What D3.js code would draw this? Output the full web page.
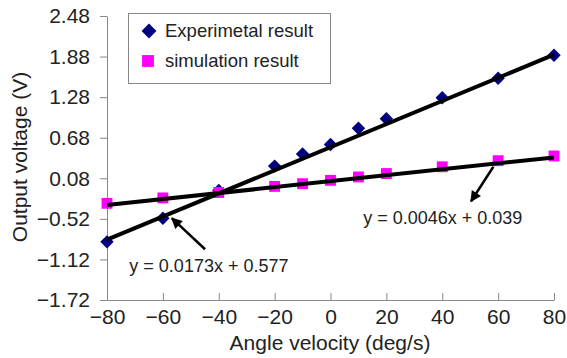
<!DOCTYPE html>
<html>
<head>
	<meta charset="utf-8">
	<title>Output voltage vs angle velocity</title>
	<script src="https://d3js.org/d3.v7.min.js"></script>
	<style>
		body { margin: 0; background: #fff; }
		text { font-family: "Liberation Sans", Arial, sans-serif; fill: #222; }
		.axis path, .axis line { stroke: #888; stroke-width: 1; }
		.axis text { font-size: 21px; fill: #222; }
	</style>
</head>
<body>
	<div id="chart"></div>

	<script type="text/javascript">
		// values
		var angles = [-80, -60, -40, -20, -10, 0, 10, 20, 40, 60, 80];
		var experimental = [-0.86, -0.51, -0.10, 0.26, 0.44, 0.58, 0.82, 0.96, 1.27, 1.56, 1.90];
		var simulation = [-0.29, -0.21, -0.13, -0.04, 0.00, 0.05, 0.10, 0.15, 0.25, 0.34, 0.41];

		var xTicks = [-80, -60, -40, -20, 0, 20, 40, 60, 80];
		var yTicks = [-1.72, -1.12, -0.52, 0.08, 0.68, 1.28, 1.88, 2.48];

		// trend lines as drawn in the picture [slope, intercept]
		var trendExp = [0.0171, 0.54];
		var trendSim = [0.0044, 0.037];

		var eqLabels = ["y = 0.0173x + 0.577", "y = 0.0046x + 0.039"];
		// annotation anchors in data units: [textX, textY, tailX, tailY, headX, headY]
		var eqExp = [-72, -1.31, -44.9, -0.97, -56.8, -0.51];
		var eqSim = [11.7, -0.60, 58.3, 0.25, 50.3, -0.26];

		var width = 567, height = 358;

		var svg = d3.select("#chart")
			.append("svg")
			.attr("width", width)
			.attr("height", height);

		var x = d3.scaleLinear().domain([-80, 80]).range([107, 554]);
		var y = d3.scaleLinear().domain([-1.72, 2.48]).range([300, 16]);

		var defs = svg.append("defs");
		defs.append("marker")
			.attr("id", "arrow")
			.attr("viewBox", "0 0 10 10")
			.attr("refX", 9)
			.attr("refY", 5)
			.attr("markerUnits", "userSpaceOnUse")
			.attr("markerWidth", 12)
			.attr("markerHeight", 11)
			.attr("orient", "auto")
			.append("path")
			.attr("d", "M0,0 L10,5 L0,10 z")
			.attr("fill", "#000");

		// axes
		svg.append("g")
			.attr("class", "axis")
			.attr("transform", "translate(0,300)")
			.call(d3.axisBottom(x).tickValues(xTicks).tickSizeInner(-7).tickSizeOuter(0).tickPadding(9))
			.selectAll("text").attr("dy", "0.71em");

		svg.append("g")
			.attr("class", "axis")
			.attr("transform", "translate(107,0)")
			.call(d3.axisLeft(y).tickValues(yTicks).tickFormat(d3.format(".2f")).tickSize(7).tickSizeOuter(0).tickPadding(10));

		svg.selectAll(".axis .domain").attr("stroke", "#888");

		// axis titles
		svg.append("text")
			.attr("x", 330)
			.attr("y", 350)
			.attr("text-anchor", "middle")
			.style("font-size", "21px")
			.text("Angle velocity (deg/s)");

		svg.append("text")
			.attr("transform", "translate(27,157) rotate(-90)")
			.attr("text-anchor", "middle")
			.style("font-size", "21px")
			.text("Output voltage (V)");

		var diamond = d3.symbol().type(d3.symbolSquare).size(90);
		var square = d3.symbol().type(d3.symbolSquare).size(118);

		var expPts = angles.map(function(a, i){ return [a, experimental[i]]; });
		var simPts = angles.map(function(a, i){ return [a, simulation[i]]; });

		svg.append("g").selectAll("path")
			.data(expPts)
			.enter().append("path")
			.attr("d", diamond)
			.attr("transform", function(d){ return "translate(" + x(d[0]) + "," + y(d[1]) + ") rotate(45)"; })
			.attr("fill", "#000080");

		svg.append("g").selectAll("path")
			.data(simPts)
			.enter().append("path")
			.attr("d", square)
			.attr("transform", function(d){ return "translate(" + x(d[0]) + "," + y(d[1]) + ")"; })
			.attr("fill", "#ff00ff");

		// trend lines
		var line = d3.line().x(function(d){ return x(d[0]); }).y(function(d){ return y(d[1]); });
		[trendExp, trendSim].forEach(function(t){
			var ends = [-80, 80].map(function(a){ return [a, t[0] * a + t[1]]; });
			svg.append("path")
				.attr("d", line(ends))
				.attr("fill", "none")
				.attr("stroke", "#000")
				.attr("stroke-width", 4);
		});

		// equation labels + arrows
		[eqExp, eqSim].forEach(function(e, i){
			svg.append("line")
				.attr("x1", x(e[2])).attr("y1", y(e[3]))
				.attr("x2", x(e[4])).attr("y2", y(e[5]))
				.attr("stroke", "#000")
				.attr("stroke-width", 2.5)
				.attr("marker-end", "url(#arrow)");
			svg.append("text")
				.attr("x", x(e[0]))
				.attr("y", y(e[1]))
				.style("font-size", "18px")
				.text(eqLabels[i]);
		});

		// legend
		var legend = svg.append("g");
		legend.append("rect")
			.attr("x", 128.5).attr("y", 13.5)
			.attr("width", 202).attr("height", 70)
			.attr("fill", "#fff")
			.attr("stroke", "#888");

		legend.append("path")
			.attr("d", d3.symbol().type(d3.symbolSquare).size(110))
			.attr("transform", "translate(149,31) rotate(45)")
			.attr("fill", "#000080");
		legend.append("path")
			.attr("d", d3.symbol().type(d3.symbolSquare).size(140))
			.attr("transform", "translate(148,61)")
			.attr("fill", "#ff00ff");

		legend.append("text").attr("x", 165).attr("y", 37).style("font-size", "18.5px").text("Experimetal result");
		legend.append("text").attr("x", 165).attr("y", 67).style("font-size", "18.5px").text("simulation result");
	</script>
</body>
</html>
